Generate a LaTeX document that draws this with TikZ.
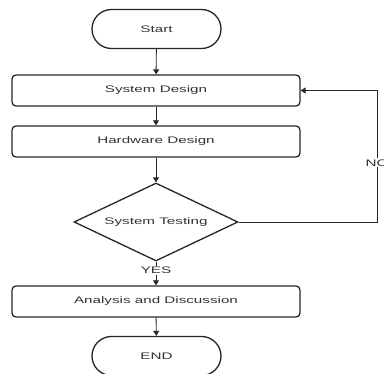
\documentclass[tikz,border=0pt]{standalone}
\usepackage{fontspec}
\newfontfamily\flowfont[FakeStretch=1.6]{Liberation Sans}
\usetikzlibrary{shapes.geometric,arrows.meta}
\begin{document}
\begin{tikzpicture}[x=1pt,y=-1pt,
  every node/.style={font=\flowfont\fontsize{9.5}{11}\selectfont, text=black!80},
  procbox/.style={draw=black!85, line width=1.3pt, rounded corners=4pt, minimum width=288pt, minimum height=31pt, inner sep=0pt},
  termbox/.style={draw=black!85, line width=1.3pt, rounded corners=19.5pt, minimum width=129pt, minimum height=39pt, inner sep=0pt},
  decbox/.style={draw=black!85, line width=1.3pt, diamond, aspect=2.1, minimum width=164pt, minimum height=78pt, inner sep=0pt},
  flowarrow/.style={draw=black!85, line width=0.9pt, -{Triangle[length=5pt,width=6pt]}},
  edgelabel/.style={fill=white, inner sep=1pt}
]
\useasboundingbox (0,0) rectangle (384,374);
\node[termbox] (start) at (156.5,29) {Start};
\node[procbox] (sysdes) at (156,90.5) {System Design};
\node[procbox] (hwdes) at (156,141.5) {Hardware Design};
\node[decbox] (test) at (156,222) {System Testing};
\node[procbox] (anal) at (156,301.5) {Analysis and Discussion};
\node[termbox] (end) at (156.5,356) {END};
\coordinate (c1) at (377,222);
\coordinate (c2) at (377,90.5);
\draw[flowarrow] (start) -- (sysdes);
\draw[flowarrow] (sysdes) -- (hwdes);
\draw[flowarrow] (hwdes) -- (test);
\draw[flowarrow] (test) -- node[edgelabel, pos=0.38] (yes) {YES} (anal);
\draw[flowarrow] (anal) -- (end);
\draw[flowarrow] (test.east) -- (c1) -- node[edgelabel, pos=0.45] (no) {NO} (c2) -- (sysdes.east);
\end{tikzpicture}
\end{document}
